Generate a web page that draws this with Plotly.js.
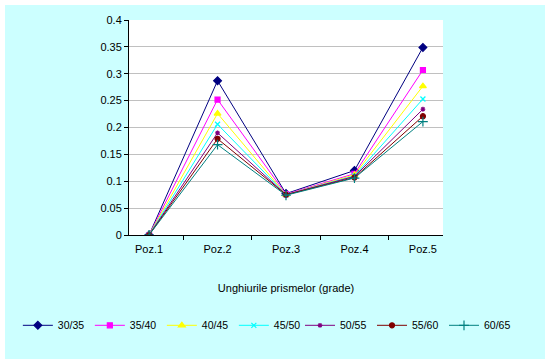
<!DOCTYPE html>
<html><head><meta charset="utf-8">
<script src="https://cdn.plot.ly/plotly-3.0.1.min.js"></script>
<style>
html,body{margin:0;padding:0;background:#fff;width:551px;height:363px;overflow:hidden}
#chart{position:absolute;left:5px;top:5px;width:540px;height:354px}
</style></head><body>
<div id="chart"></div>
<script>
const categories = ["Poz.1","Poz.2","Poz.3","Poz.4","Poz.5"];
const seriesNames = ["30/35","35/40","40/45","45/50","50/55","55/60","60/65"];
const s30_35 = [0, 0.287, 0.077, 0.120, 0.349];
const s35_40 = [0, 0.252, 0.076, 0.114, 0.307];
const s40_45 = [0, 0.226, 0.075, 0.112, 0.277];
const s45_50 = [0, 0.206, 0.075, 0.110, 0.253];
const s50_55 = [0, 0.190, 0.075, 0.109, 0.234];
const s55_60 = [0, 0.179, 0.075, 0.107, 0.221];
const s60_65 = [0, 0.168, 0.074, 0.106, 0.211];
const yTickVals = [0,0.05,0.1,0.15,0.2,0.25,0.3,0.35,0.4];
const yTickText = ["0","0.05","0.1","0.15","0.2","0.25","0.3","0.35","0.4"];

const values = [s30_35,s35_40,s40_45,s45_50,s50_55,s55_60,s60_65];
const colors = ["#000080","#FF00FF","#FFFF00","#00FFFF","#800080","#800000","#008080"];
const symbols = ["diamond","square","triangle-up","x-thin-open","asterisk-open","circle","cross-thin-open"];
const sizes = [6,5,6,5,4,5,7];

const traces = values.map((v,i)=>({
  type:"scatter", mode:"lines+markers", x:categories, y:v, name:seriesNames[i],
  legend: i < 4 ? "legend" : "legend2",
  line:{color:colors[i], width:1},
  marker:{symbol:symbols[i], size:sizes[i], color:colors[i], line:{color:colors[i], width:1.2}}
}));

const legendCommon = {orientation:"h", xanchor:"left", y:-0.42, yanchor:"middle",
  bgcolor:"rgba(0,0,0,0)", font:{size:10.5}, entrywidth:27, entrywidthmode:"pixels",
  itemwidth:30, tracegroupgap:0};

const layout = {
  width:540, height:354,
  paper_bgcolor:"#CCFFFF", plot_bgcolor:"#FFFFFF",
  margin:{l:124, r:102, t:15, b:124, autoexpand:false},
  font:{family:"Liberation Sans, Arial, sans-serif", size:11, color:"#000"},
  showlegend:true,
  xaxis:{
    type:"category", tickson:"boundaries", ticks:"outside", ticklen:4, tickcolor:"#000",
    showline:true, linecolor:"#000", linewidth:1, showgrid:false, zeroline:false,
    tickfont:{size:11}, ticklabelstandoff:4,
    title:{text:"Unghiurile prismelor (grade)", font:{size:11}, standoff:30}
  },
  yaxis:{
    range:[0,0.4], tickvals:yTickVals, ticktext:yTickText, ticks:"outside", ticklen:4, tickcolor:"#000",
    showline:true, linecolor:"#000", linewidth:1, gridcolor:"#C0C0C0", gridwidth:1, zeroline:false,
    tickfont:{size:11}
  },
  legend:Object.assign({}, legendCommon, {x:-0.354}),
  legend2:Object.assign({}, legendCommon, {x:0.5446})
};
Plotly.newPlot("chart", traces, layout, {displayModeBar:false, staticPlot:true});
</script></body></html>
